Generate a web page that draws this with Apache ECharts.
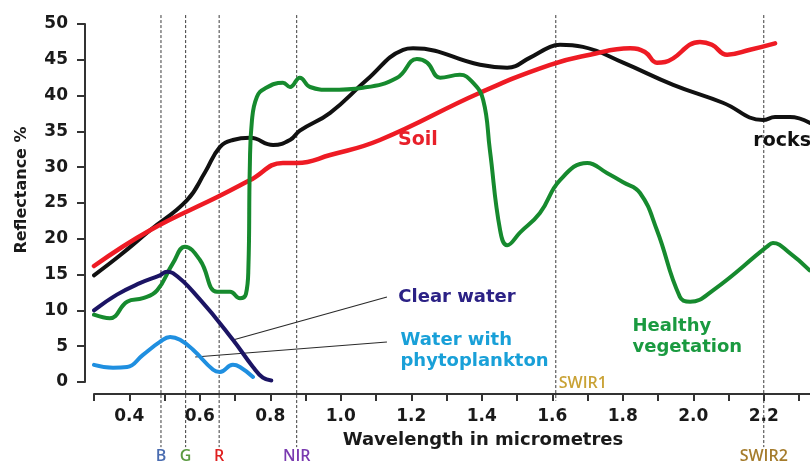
<!DOCTYPE html>
<html><head><meta charset="utf-8">
<script src="https://cdn.jsdelivr.net/npm/echarts@6/dist/echarts.min.js"></script>
<style>html,body{margin:0;padding:0;background:#fff}#c{width:810px;height:461px}</style>
</head><body><div id="c"></div>
<script>
// ---- data (wavelength in micrometres, reflectance %) ----
const soil = [[0.3,16.2],[0.459,21.2],[0.657,26.0],[0.743,28.2],[0.836,30.6],[0.876,30.6],[0.97,31.7],[1.111,33.8],[1.395,40.4],[1.594,44.3],[1.707,45.7],[1.821,46.6],[1.863,46.1],[1.897,44.6],[1.92,44.7],[2.019,47.5],[2.053,47.1],[2.096,45.7],[2.161,46.4],[2.232,47.3]];
const rocks = [[0.3,14.9],[0.374,17.7],[0.459,21.2],[0.564,25.4],[0.615,29.3],[0.657,32.8],[0.694,33.8],[0.743,34.1],[0.808,33.1],[0.856,33.8],[0.884,35.1],[0.97,37.6],[1.074,42.2],[1.177,46.4],[1.205,46.6],[1.395,44.3],[1.472,43.9],[1.537,45.3],[1.594,46.8],[1.622,47.1],[1.687,46.8],[1.801,44.6],[1.943,41.5],[2.084,39.0],[2.198,36.6],[2.232,37.0],[2.274,37.0],[2.33,36.2]];
const vegetation = [[0.3,9.4],[0.345,8.9],[0.394,11.2],[0.439,11.7],[0.479,12.8],[0.524,16.6],[0.558,18.9],[0.601,17.0],[0.649,12.6],[0.686,12.6],[0.714,11.7],[0.731,12.3],[0.738,16.0],[0.742,30.0],[0.748,36.5],[0.762,39.8],[0.785,41.0],[0.836,41.8],[0.856,41.2],[0.884,42.5],[0.913,41.2],[0.97,40.8],[1.063,41.1],[1.16,42.5],[1.216,45.1],[1.245,44.6],[1.282,42.5],[1.338,42.9],[1.375,41.8],[1.404,39.4],[1.423,32.4],[1.452,21.2],[1.472,19.1],[1.509,20.9],[1.565,23.6],[1.622,28.2],[1.699,30.6],[1.755,29.2],[1.801,27.9],[1.849,26.4],[1.897,21.2],[1.962,11.9],[1.991,11.2],[2.056,12.8],[2.209,18.9],[2.226,19.4],[2.274,18.0],[2.33,15.6]];
const clearWater = [[0.3,10.0],[0.365,12.2],[0.43,13.8],[0.487,14.9],[0.507,15.4],[0.524,15.2],[0.601,11.5],[0.694,5.9],[0.751,2.1],[0.779,0.6],[0.803,0.2]];
const phytoWater = [[0.3,2.4],[0.354,2.0],[0.394,2.1],[0.439,3.8],[0.487,5.6],[0.516,6.3],[0.544,5.9],[0.581,4.5],[0.638,1.7],[0.657,1.4],[0.694,2.4],[0.714,2.1],[0.751,0.7]];
const bandNames = ['B','G','R','NIR','SWIR1','SWIR2'];
const bandWavelengths = [0.49,0.56,0.655,0.875,1.61,2.2];
const xTickInterval = 0.1;
const yTickInterval = 5;
const annotationTexts = ['Soil','rocks','Clear water','Water with\nphytoplankton','Healthy\nvegetation'];
const annotationCoords = [[1.219,33.8],[2.169,33.66],[1.162,11.87],[1.168,4.4],[1.826,6.3]];
const leaderClear = [[1.131,11.87],[0.694,5.87]];
const leaderPhyto = [[1.131,5.59],[0.587,3.49]];

// ---- styles ----
const FONT = '"DejaVu Sans", "Liberation Sans", sans-serif';
const bandStyle = [
  {color:'#4a6cb0', bottom:-9.1, labelY:-10.4, align:'center', dx:0},
  {color:'#5a9a40', bottom:-9.1, labelY:-10.4, align:'center', dx:0},
  {color:'#e02020', bottom:-9.1, labelY:-10.4, align:'center', dx:0},
  {color:'#7a3ab0', bottom:-9.1, labelY:-10.4, align:'center', dx:0},
  {color:'#c9a235', bottom:-2.6, labelY:-0.15, align:'left', dx:3},
  {color:'#a57c2c', bottom:-9.1, labelY:-10.4, align:'center', dx:0}
];
const annStyle = [
  {color:'#e8202a', size:19, align:'center'},
  {color:'#111', size:19, align:'left'},
  {color:'#2b2185', size:18, align:'left'},
  {color:'#19a0d8', size:18, align:'left'},
  {color:'#1a9a40', size:18, align:'left'}
];

const chart = echarts.init(document.getElementById('c'), null, {renderer:'canvas'});
function lineSeries(name, data, color, width, z){
  return {name, type:'line', data, smooth:0.45, showSymbol:false, symbol:'none',
    lineStyle:{color, width, cap:'round', join:'round'}, z, silent:true};
}
chart.setOption({
  animation:false,
  grid:{left:94, top:24, right:0.4, bottom:79, containLabel:false},
  xAxis:{type:'value', min:0.3, max:2.33, interval:xTickInterval, offset:12,
    axisLine:{show:true, onZero:false, lineStyle:{color:'#333', width:2}},
    axisTick:{show:true, length:7, lineStyle:{color:'#333', width:2}},
    splitLine:{show:false},
    axisLabel:{margin:14, color:'#1a1a1a', fontFamily:FONT, fontWeight:'bold', fontSize:17,
      showMaxLabel:false,
      formatter:v=>{const k=Math.round(v*10); return (k%2===0 && Math.abs(v*10-k)<1e-6)? v.toFixed(1):'';}}
  },
  yAxis:{type:'value', min:0, max:50, interval:yTickInterval, offset:9,
    axisLine:{show:true, onZero:false, lineStyle:{color:'#333', width:2}},
    axisTick:{show:true, length:8, lineStyle:{color:'#333', width:2}},
    splitLine:{show:false},
    axisLabel:{margin:17, color:'#1a1a1a', fontFamily:FONT, fontWeight:'bold', fontSize:17}
  },
  graphic:[
    {type:'text', x:22, y:190, rotation:Math.PI/2, style:{text:'Reflectance %', font:'bold 16px '+FONT, fill:'#1a1a1a', align:'center', verticalAlign:'middle'}},
    {type:'text', x:483, y:440, style:{text:'Wavelength in micrometres', font:'bold 18px '+FONT, fill:'#1a1a1a', align:'center', verticalAlign:'middle'}}
  ],
  series:[
    {type:'custom', clip:false, z:1, silent:true,
      data: bandWavelengths.map((w,i)=>[w,i]),
      renderItem:(params, api)=>{
        const i = api.value(1);
        const st = bandStyle[i];
        const x = api.coord([api.value(0), 0])[0];
        const yTop = api.coord([api.value(0), 51.25])[1];
        const yBot = api.coord([api.value(0), st.bottom])[1];
        const yLab = api.coord([api.value(0), st.labelY])[1];
        return {type:'group', children:[
          {type:'line', shape:{x1:x, y1:yTop, x2:x, y2:yBot}, style:{stroke:'#3a3a3a', lineWidth:1, lineDash:[3,2]}},
          {type:'text', x:x+st.dx, y:yLab, style:{text:bandNames[i], fill:st.color, font:'600 16px "Open Sans", sans-serif', align:st.align, verticalAlign:'middle'}}
        ]};
      }
    },
    {type:'line', data:leaderClear, showSymbol:false, symbol:'none', lineStyle:{color:'#2a2a2a', width:1.2}, z:2, silent:true},
    {type:'line', data:leaderPhyto, showSymbol:false, symbol:'none', lineStyle:{color:'#2a2a2a', width:1.2}, z:2, silent:true},
    lineSeries('rocks', rocks, '#111111', 4, 3),
    lineSeries('Soil', soil, '#ee1b24', 4.5, 4),
    lineSeries('Healthy vegetation', vegetation, '#168a2e', 4, 5),
    lineSeries('Water with phytoplankton', phytoWater, '#1f8fe0', 4, 6),
    lineSeries('Clear water', clearWater, '#1b1464', 4, 7),
    {type:'scatter', z:8, silent:true, clip:false, symbolSize:1, itemStyle:{color:'rgba(0,0,0,0)', opacity:1},
      data: annotationCoords.map((c,i)=>({value:c, label:{
        show:true, formatter:annotationTexts[i],
        position: annStyle[i].align==='center' ? 'inside' : 'right', distance:0,
        align: annStyle[i].align, verticalAlign:'middle', opacity:1,
        textBorderWidth:0, textBorderColor:'transparent',
        color: annStyle[i].color, fontFamily:FONT, fontWeight:'bold', fontSize:annStyle[i].size,
        lineHeight:21
      }}))
    }
  ]
});
</script></body></html>
